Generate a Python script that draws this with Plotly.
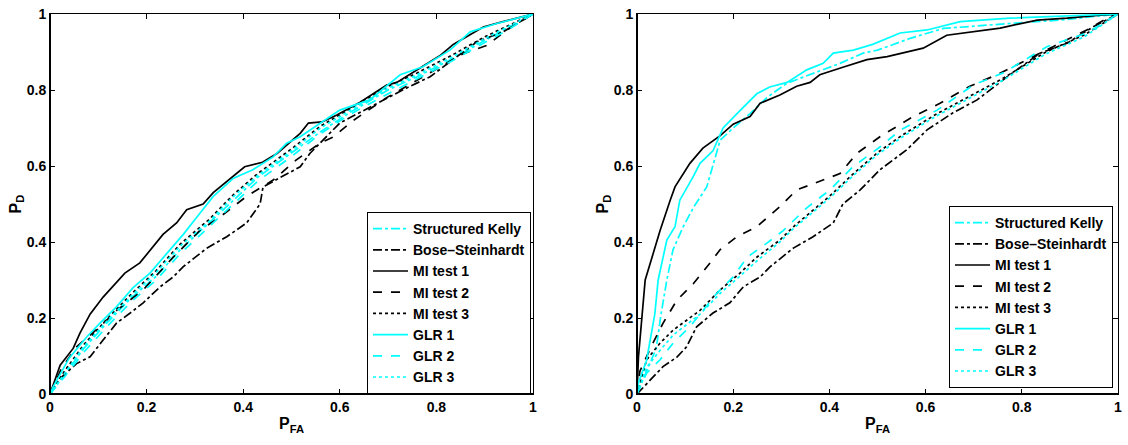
import plotly.graph_objects as go

# ---------------- data: left panel ----------------
L_sk_x = [0, 0.03, 0.07, 0.12, 0.17, 0.22, 0.27, 0.33, 0.38, 0.43, 0.5, 0.56, 0.62, 0.7, 0.76, 0.83, 0.9, 0.95, 1]
L_sk_y = [0, 0.05, 0.12, 0.19, 0.255, 0.31, 0.38, 0.45, 0.51, 0.57, 0.635, 0.69, 0.74, 0.80, 0.835, 0.88, 0.93, 0.965, 1]

L_bose_x = [0, 0.02, 0.055, 0.083, 0.11, 0.138, 0.166, 0.193, 0.228, 0.255, 0.276, 0.324, 0.366, 0.407, 0.435,
            0.441, 0.518, 0.538, 0.6, 0.677, 0.73, 0.787, 0.828, 0.884, 0.938, 1]
L_bose_y = [0, 0.04, 0.08, 0.098, 0.142, 0.187, 0.213, 0.24, 0.282, 0.308, 0.335, 0.383, 0.414, 0.45, 0.50,
            0.545, 0.598, 0.633, 0.713, 0.765, 0.8, 0.835, 0.874, 0.927, 0.953, 1]

L_mi1_x = [0, 0.021, 0.048, 0.062, 0.083, 0.11, 0.155, 0.186, 0.234, 0.262, 0.283, 0.317, 0.338, 0.386, 0.403,
           0.44, 0.47, 0.518, 0.535, 0.563, 0.594, 0.642, 0.697, 0.718, 0.78, 0.807, 0.835, 0.863, 0.897, 0.938, 1]
L_mi1_y = [0, 0.076, 0.12, 0.16, 0.21, 0.255, 0.318, 0.345, 0.42, 0.45, 0.485, 0.5, 0.53, 0.58, 0.598,
           0.61, 0.633, 0.686, 0.713, 0.716, 0.734, 0.768, 0.813, 0.82, 0.87, 0.89, 0.92, 0.94, 0.966, 0.98, 1]

L_mi2_x = [0, 0.024, 0.055, 0.103, 0.138, 0.193, 0.255, 0.31, 0.352, 0.407, 0.462, 0.51, 0.559, 0.586, 0.628,
           0.697, 0.745, 0.793, 0.855, 0.904, 0.946, 1]
L_mi2_y = [0, 0.068, 0.124, 0.177, 0.22, 0.274, 0.36, 0.43, 0.466, 0.52, 0.563, 0.616, 0.66, 0.676, 0.72,
           0.78, 0.815, 0.85, 0.895, 0.917, 0.958, 1]

L_grid_x = [0, 0.03, 0.07, 0.12, 0.17, 0.22, 0.27, 0.33, 0.38, 0.43, 0.5, 0.56, 0.62, 0.7, 0.76, 0.83, 0.9, 0.95, 1]
L_mi3_y = [0, 0.06, 0.13, 0.20, 0.265, 0.325, 0.395, 0.46, 0.525, 0.58, 0.645, 0.705, 0.75, 0.81, 0.845, 0.89, 0.94, 0.97, 1]

L_glr1_x = [0, 0.007, 0.04, 0.076, 0.103, 0.138, 0.172, 0.207, 0.242, 0.276, 0.31, 0.338, 0.38, 0.42, 0.462,
            0.49, 0.518, 0.6, 0.662, 0.725, 0.772, 0.828, 0.87, 0.925, 1]
L_glr1_y = [0, 0.02, 0.095, 0.15, 0.186, 0.23, 0.28, 0.318, 0.37, 0.42, 0.475, 0.52, 0.568, 0.59, 0.624,
            0.66, 0.677, 0.747, 0.774, 0.84, 0.861, 0.905, 0.953, 0.975, 1]
L_glr2_y = [0, 0.045, 0.11, 0.18, 0.245, 0.30, 0.37, 0.44, 0.50, 0.56, 0.625, 0.685, 0.735, 0.79, 0.83, 0.875, 0.925, 0.96, 1]
L_glr3_y = [0, 0.055, 0.125, 0.195, 0.26, 0.32, 0.39, 0.455, 0.52, 0.575, 0.64, 0.70, 0.745, 0.805, 0.84, 0.885, 0.935, 0.968, 1]

# ---------------- data: right panel ----------------
R_sk_x = [0, 0.006, 0.04, 0.05, 0.062, 0.075, 0.096, 0.117, 0.145, 0.173, 0.2, 0.235, 0.27, 0.312, 0.367,
          0.422, 0.47, 0.5, 0.568, 0.637, 0.775, 0.88, 1]
R_sk_y = [0, 0.018, 0.12, 0.21, 0.30, 0.38, 0.44, 0.49, 0.545, 0.668, 0.70, 0.738, 0.78, 0.818, 0.844,
          0.87, 0.897, 0.905, 0.936, 0.962, 0.975, 0.984, 1]

R_bose_x = [0, 0.03, 0.054, 0.083, 0.103, 0.124, 0.158, 0.193, 0.221, 0.256, 0.277, 0.325, 0.366, 0.408, 0.428,
            0.464, 0.505, 0.561, 0.603, 0.657, 0.707, 0.775, 0.838, 0.894, 0.948, 1]
R_bose_y = [0, 0.04, 0.072, 0.097, 0.124, 0.177, 0.213, 0.24, 0.282, 0.308, 0.335, 0.384, 0.414, 0.45, 0.50,
            0.537, 0.59, 0.643, 0.695, 0.74, 0.774, 0.84, 0.897, 0.923, 0.966, 1]

R_mi1_x = [0, 0.003, 0.017, 0.031, 0.048, 0.069, 0.079, 0.11, 0.137, 0.173, 0.2, 0.235, 0.256, 0.297, 0.332,
           0.36, 0.38, 0.428, 0.478, 0.52, 0.595, 0.644, 0.692, 0.755, 0.832, 0.894, 0.963, 1]
R_mi1_y = [0, 0.097, 0.30, 0.36, 0.43, 0.51, 0.545, 0.607, 0.647, 0.68, 0.71, 0.73, 0.765, 0.787, 0.81,
           0.82, 0.84, 0.86, 0.88, 0.888, 0.91, 0.944, 0.953, 0.963, 0.984, 0.989, 0.997, 1]

R_mi2_x = [0, 0.006, 0.033, 0.054, 0.083, 0.117, 0.152, 0.173, 0.208, 0.249, 0.297, 0.332, 0.422, 0.457, 0.505,
           0.574, 0.63, 0.692, 0.748, 0.81, 0.865, 0.935, 0.983, 1]
R_mi2_y = [0, 0.06, 0.134, 0.186, 0.247, 0.29, 0.345, 0.38, 0.414, 0.44, 0.493, 0.537, 0.58, 0.633, 0.677,
           0.73, 0.765, 0.81, 0.84, 0.88, 0.914, 0.958, 0.993, 1]

R_grid_x = [0, 0.02, 0.048, 0.075, 0.131, 0.173, 0.214, 0.249, 0.297, 0.325, 0.4, 0.45, 0.5, 0.55, 0.62, 0.7,
            0.76, 0.85, 0.93, 1]
R_mi3_y = [0, 0.09, 0.134, 0.168, 0.22, 0.274, 0.318, 0.36, 0.405, 0.44, 0.52, 0.58, 0.635, 0.68, 0.735, 0.79,
           0.83, 0.9, 0.945, 1]
R_glr3_y = [0, 0.07, 0.115, 0.155, 0.21, 0.265, 0.31, 0.35, 0.40, 0.435, 0.515, 0.575, 0.63, 0.675, 0.73, 0.785,
            0.825, 0.895, 0.94, 1]

R_glr1_x = [0, 0.003, 0.02, 0.027, 0.037, 0.044, 0.062, 0.079, 0.089, 0.116, 0.131, 0.158, 0.179, 0.208, 0.235,
            0.249, 0.276, 0.312, 0.353, 0.387, 0.408, 0.45, 0.49, 0.547, 0.603, 0.672, 0.775, 0.88, 1]
R_glr1_y = [0, 0.03, 0.089, 0.14, 0.21, 0.30, 0.405, 0.44, 0.51, 0.57, 0.607, 0.64, 0.70, 0.738, 0.774,
            0.79, 0.808, 0.82, 0.853, 0.87, 0.897, 0.905, 0.92, 0.95, 0.958, 0.98, 0.989, 0.995, 1]

R_glr2_x = [0, 0.02, 0.048, 0.075, 0.11, 0.131, 0.166, 0.2, 0.229, 0.27, 0.304, 0.353, 0.401, 0.449, 0.505,
            0.547, 0.624, 0.699, 0.761, 0.852, 0.935, 1]
R_glr2_y = [0, 0.055, 0.09, 0.134, 0.177, 0.21, 0.265, 0.308, 0.36, 0.397, 0.43, 0.49, 0.537, 0.598, 0.65,
            0.694, 0.747, 0.813, 0.845, 0.914, 0.95, 1]

series_names = ["Structured Kelly", "Bose\u2013Steinhardt", "MI test 1", "MI test 2", "MI test 3",
                "GLR 1", "GLR 2", "GLR 3"]
tick_vals = [0, 0.2, 0.4, 0.6, 0.8, 1]
tick_text = ["0", "0.2", "0.4", "0.6", "0.8", "1"]

CY = "#00FFFF"
styles = [(CY, "dashdot"), ("black", "dashdot"), ("black", "solid"), ("black", "dash"), ("black", "dot"),
          (CY, "solid"), (CY, "dash"), (CY, "dot")]

left_data = [(L_sk_x, L_sk_y), (L_bose_x, L_bose_y), (L_mi1_x, L_mi1_y), (L_mi2_x, L_mi2_y),
             (L_grid_x, L_mi3_y), (L_glr1_x, L_glr1_y), (L_grid_x, L_glr2_y), (L_grid_x, L_glr3_y)]
right_data = [(R_sk_x, R_sk_y), (R_bose_x, R_bose_y), (R_mi1_x, R_mi1_y), (R_mi2_x, R_mi2_y),
              (R_grid_x, R_mi3_y), (R_glr1_x, R_glr1_y), (R_glr2_x, R_glr2_y), (R_grid_x, R_glr3_y)]

FONT = "Liberation Sans"

fig = go.Figure()
for (xs, ys), name, (col, dash) in zip(left_data, series_names, styles):
    fig.add_trace(go.Scatter(x=xs, y=ys, mode="lines", name=name, xaxis="x", yaxis="y",
                             line=dict(color=col, dash=dash, width=1.7), legend="legend"))
for (xs, ys), name, (col, dash) in zip(right_data, series_names, styles):
    fig.add_trace(go.Scatter(x=xs, y=ys, mode="lines", name=name, xaxis="x2", yaxis="y2",
                             line=dict(color=col, dash=dash, width=1.7), legend="legend2"))

W, H = 1128, 445
ydom = [(H - 394) / H, (H - 14) / H]
xdom1 = [50 / W, 533 / W]
xdom2 = [637 / W, 1118 / W]

def ax(domain, anchor, title, standoff):
    return dict(domain=domain, anchor=anchor, range=[0, 1], tickvals=tick_vals,
                ticktext=["<b>%s</b>" % t for t in tick_text],
                showgrid=False, zeroline=False, showline=True, linecolor="black", linewidth=1,
                mirror="ticks", ticks="inside", ticklen=5, tickcolor="black", tickwidth=1,
                automargin=False,
                tickfont=dict(family=FONT, size=14, color="black", weight="bold"),
                title=dict(text="<b>%s</b>" % title, standoff=standoff,
                           font=dict(family=FONT, size=16, color="black", weight="bold")),
                fixedrange=True)

xa1 = ax(xdom1, "y", "P<sub>FA</sub>", 4)
xa2 = ax(xdom2, "y2", "P<sub>FA</sub>", 4)
ya1 = ax(ydom, "x", "P<sub>D</sub>", 1)
ya2 = ax(ydom, "x2", "P<sub>D</sub>", 1)

leg_common = dict(bgcolor="white", bordercolor="black", borderwidth=1, tracegroupgap=0,
                  itemwidth=35,
                  font=dict(family=FONT, size=14, color="black", weight="bold"),
                  xanchor="right", yanchor="bottom")

shapes = []
for xr, yr in (("x domain", "y domain"), ("x2 domain", "y2 domain")):
    shapes.append(dict(type="line", xref=xr, yref=yr, x0=0, x1=0, y0=0, y1=1,
                       line=dict(color="black", width=2), layer="above"))
    shapes.append(dict(type="line", xref=xr, yref=yr, x0=0, x1=1, y0=0, y1=0,
                       line=dict(color="black", width=2), layer="above"))

fig.update_layout(
    width=W, height=H, autosize=False,
    margin=dict(l=0, r=0, t=0, b=0, autoexpand=False),
    paper_bgcolor="white", plot_bgcolor="white",
    xaxis=xa1, yaxis=ya1, xaxis2=xa2, yaxis2=ya2,
    legend=dict(x=531 / W, y=(H - 394) / H, **leg_common),
    legend2=dict(x=1113 / W, y=(H - 388) / H, **leg_common),
    shapes=shapes,
    showlegend=True,
)

fig.write_html("out.html", config={"displayModeBar": False},
               post_script="document.body.style.margin='0';document.body.style.padding='0';")
